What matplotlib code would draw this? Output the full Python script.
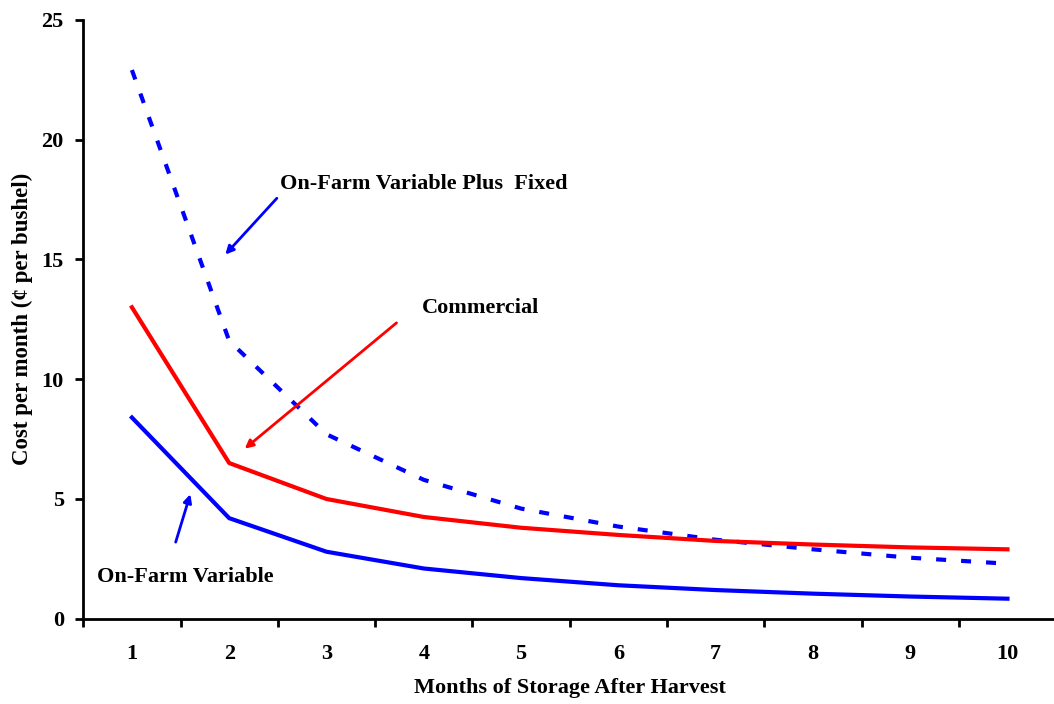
import matplotlib
matplotlib.use("Agg")
import matplotlib.pyplot as plt
import numpy as np

# Data
months = [1, 2, 3, 4, 5, 6, 7, 8, 9, 10]
var_plus_fixed = [22.9, 11.6, 7.7, 5.8, 4.6, 3.85, 3.3, 2.9, 2.55, 2.3]
commercial = [13.0, 6.5, 5.0, 4.25, 3.8, 3.5, 3.25, 3.1, 2.98, 2.9]
on_farm_var = [8.4, 4.2, 2.8, 2.1, 1.7, 1.4, 1.2, 1.05, 0.93, 0.84]

plt.rcParams["font.family"] = ["Liberation Serif", "DejaVu Serif"]
plt.rcParams["font.weight"] = "bold"

fig = plt.figure(figsize=(10.54, 7.04), dpi=100)
ax = fig.add_axes([0.079, 0.121, 0.923, 0.851])

ax.plot(months, var_plus_fixed, color="#0000ff", lw=3, dashes=(2.4, 3.6))
ax.plot(months, commercial, color="#ff0000", lw=3)
ax.plot(months, on_farm_var, color="#0000ff", lw=3)

ax.set_xlim(0.5, 10.5)
ax.set_ylim(0, 25)
ax.set_yticks([0, 5, 10, 15, 20, 25])
ax.set_xticks(np.arange(0.5, 10.6, 1.0))
ax.set_xticklabels([])
ax.set_xticks(months, minor=True)
ax.set_xticklabels([str(m) for m in months], minor=True)
ax.tick_params(axis="x", which="minor", length=0, pad=18, labelsize=16)
ax.tick_params(axis="x", which="major", length=6, width=2)
ax.tick_params(axis="y", length=6, width=2, labelsize=16, pad=8)
for lab in ax.get_yticklabels() + ax.get_xticklabels(minor=True):
    lab.set_fontweight("bold")

for s in ["top", "right"]:
    ax.spines[s].set_visible(False)
for s in ["left", "bottom"]:
    ax.spines[s].set_linewidth(2)

ax.set_xlabel("Months of Storage After Harvest", fontsize=16, fontweight="bold", labelpad=10)
ax.set_ylabel("Cost per month (¢ per bushel)", fontsize=16.5, fontweight="bold", labelpad=6)

arrow_kw = dict(arrowstyle="-|>", lw=2, mutation_scale=12, shrinkA=0, shrinkB=0)
ax.annotate("", xy=(1.96, 15.2), xytext=(2.49, 17.55),
            arrowprops=dict(color="#0000ff", **arrow_kw))
ax.annotate("", xy=(2.16, 7.1), xytext=(3.72, 12.35),
            arrowprops=dict(color="#ff0000", **arrow_kw))
ax.annotate("", xy=(1.6, 5.2), xytext=(1.45, 3.2),
            arrowprops=dict(color="#0000ff", **arrow_kw))

ax.text(2.525, 18.15, "On-Farm Variable Plus  Fixed", fontsize=16, fontweight="bold",
        ha="left", va="center")
ax.text(3.985, 12.98, "Commercial", fontsize=16, fontweight="bold", ha="left", va="center")
ax.text(0.645, 1.75, "On-Farm Variable", fontsize=16, fontweight="bold", ha="left", va="center")

fig.savefig("out.png", dpi=100)
